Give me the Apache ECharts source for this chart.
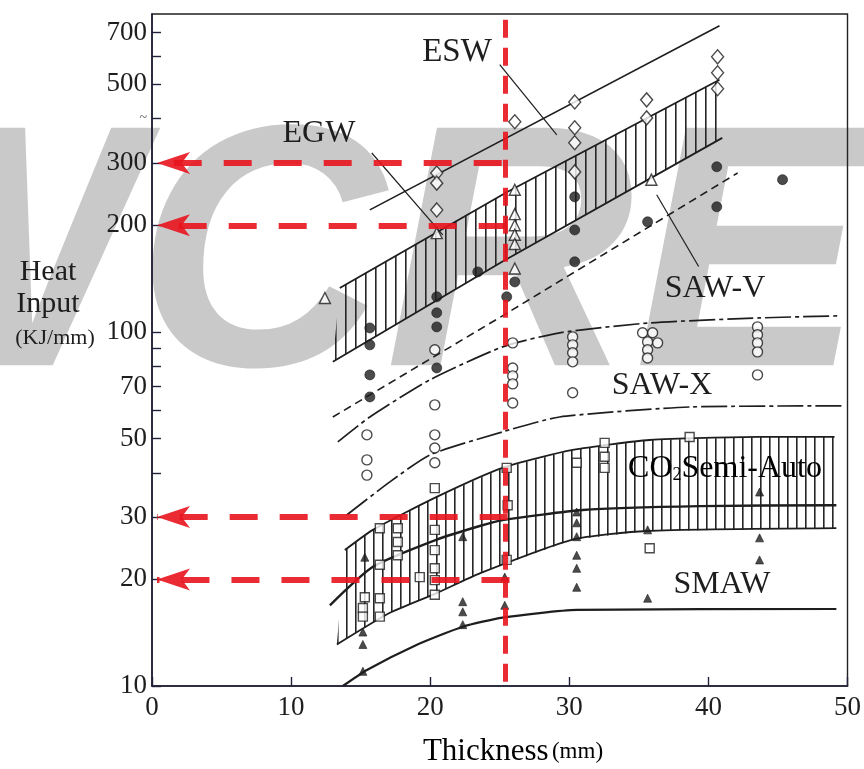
<!DOCTYPE html>
<html>
<head>
<meta charset="utf-8">
<script src="https://cdn.jsdelivr.net/npm/echarts@6/dist/echarts.min.js"></script>
<style>
  html, body { margin: 0; padding: 0; background: #ffffff; }
  #chart { width: 864px; height: 769px; }
</style>
</head>
<body>
<div id="chart"></div>
<script>
// Axis ticks and labels
const xTickLabels = [0, 10, 20, 30, 40, 50];
const yTickValues = [10, 20, 30, 40, 50, 60, 70, 80, 90, 100, 200, 300, 400, 500, 600, 700];
const yLabelValues = [10, 20, 30, 50, 70, 100, 200, 300, 400, 500, 700];

// Process ranges: [thickness mm, heat input kJ/mm]
const eswLine = [[15.66, 221], [40.8, 732]];
const egwUpper = [[13.5, 133], [25.5, 248], [40.8, 515]];
const egwLower = [[13.0, 82.3], [25.2, 158], [41.0, 353]];
const sawVLine = [[13.0, 57.5], [25.2, 111], [42.1, 281]];
const sawXUpper = [[13.36, 48.9], [15.66, 57.5], [19.97, 73.2], [25.2, 90.7], [29.3, 99.4], [35.78, 106], [43.68, 109.5], [49.43, 111]];
const sawXLower = [[14.0, 30.4], [17.1, 37.7], [19.97, 44.9], [25.2, 52.2], [29.3, 57.5], [38.86, 61.4], [49.64, 61.8]];
const co2Upper = [[13.86, 24.2], [15.88, 27.6], [20.47, 34.2], [25.2, 41.3], [30.24, 46.4], [35.78, 49.5], [43.68, 50.5], [49.07, 50.5]];
const co2Lower = [[13.29, 13.1], [17.1, 16.1], [20.47, 18.3], [23.56, 20.8], [30.24, 25.9], [35.56, 27.4], [49.2, 27.9]];
const smawUpper = [[12.79, 16.9], [15.88, 21.7], [20.47, 25.9], [23.56, 28.3], [25.2, 29.4], [30.96, 31.4], [39.37, 32.2], [49.2, 32.4]];
const smawLower = [[13.72, 10], [15.45, 11.1], [18.9, 13.0], [22.34, 14.7], [25.2, 15.6], [30.53, 16.4], [49.2, 16.5]];

// Leader lines from the process names
const eswPointer = [[25.0, 568], [29.1, 360]];
const egwPointer = [[15.8, 320], [20.9, 188]];
const sawVPointer = [[36.28, 244], [39.3, 153]];

// Measured welds
const eswPoints = [[20.47, 281], [20.47, 263], [20.47, 221], [26.08, 392], [30.39, 446], [30.39, 377], [30.39, 342], [30.39, 283],
  [35.56, 452], [35.56, 402], [40.66, 598], [40.66, 539], [40.66, 486]];
const egwPoints = [[12.43, 124.6], [20.47, 190], [26.08, 252], [26.08, 215], [26.08, 200], [26.08, 188], [26.08, 177], [26.08, 151], [35.9, 269]];
const sawVPoints = [[15.66, 102.6], [15.66, 91.9], [15.66, 75.6], [15.66, 65.5], [20.47, 125.6], [20.47, 113.2], [20.47, 103.3], [20.47, 79.1],
  [23.42, 147.7], [26.08, 138.4], [25.5, 125.6], [30.39, 240.6], [30.39, 194], [30.39, 157.7], [35.63, 204.5], [40.6, 292.5], [40.6, 225.5], [45.33, 269]];
const sawXPoints = [[15.45, 51.2], [15.45, 43.5], [15.45, 39.4], [20.33, 89.0], [20.33, 62.2], [20.33, 51.2], [20.33, 47.0], [20.33, 42.7],
  [25.93, 93.1], [25.93, 79.1], [25.93, 75.1], [25.93, 71.3], [25.93, 63.0], [30.24, 96.8], [30.24, 91.9], [30.24, 87.3], [30.24, 82.3], [30.24, 67.3],
  [35.27, 99.4], [35.99, 99.4], [35.63, 93.7], [36.35, 93.1], [35.63, 89.0], [35.63, 84.4], [43.53, 103.3], [43.53, 98.1], [43.53, 93.1], [43.53, 87.8], [43.53, 75.6]];
const co2Points = [[20.33, 36.2], [16.38, 27.9], [17.67, 27.9], [17.67, 25.5], [17.67, 23.4], [16.38, 22.0], [15.3, 17.8], [16.38, 17.7], [15.16, 16.6],
  [15.16, 15.7], [16.38, 15.7], [20.33, 27.6], [20.33, 24.2], [20.33, 21.5], [20.33, 19.9], [20.33, 18.1], [19.25, 20.3],
  [30.53, 42.7], [32.54, 48.6], [32.54, 44.4], [32.54, 41.3], [25.57, 32.4], [25.5, 41.3], [25.5, 22.7], [35.78, 24.5], [38.65, 50.5]];
const smawPoints = [[15.16, 14.2], [15.16, 13.1], [15.16, 11.0], [15.3, 23.1], [22.34, 17.3], [22.34, 16.2], [22.34, 14.9], [22.34, 26.4],
  [25.36, 20.3], [25.36, 16.9], [30.53, 31.0], [30.53, 28.9], [30.53, 26.4], [30.53, 23.4], [30.53, 21.5], [30.53, 19.0],
  [35.63, 17.7], [35.63, 27.6], [43.68, 35.3], [43.68, 26.2], [43.68, 22.7]];

// Reading guides (red)
const guideX = 25.36;
const guideLevels = [[25.14, 300], [25.5, 200], [25.57, 30], [25.7, 20]];
const guideTipX = 0.36;
const guideTop = 761;

const INK = '#1e1e1e';
const AXIS = '#20203a';
const RED = 'rgba(232, 20, 30, 0.9)';
const SERIF = '"Liberation Serif", "DejaVu Serif", serif';

// Vertical hatching used to fill the EGW and CO2 bands
function hatch(period, width) {
  const c = document.createElement('canvas');
  c.width = period; c.height = 8;
  const g = c.getContext('2d');
  g.fillStyle = '#262626';
  g.fillRect(Math.floor(period / 2), 0, width, 8);
  return { image: c, repeat: 'repeat' };
}

function band(upper, lower, pattern) {
  return {
    type: 'custom',
    coordinateSystem: 'cartesian2d',
    silent: true,
    z: 1,
    data: [[20, 100]],
    renderItem: function (params, api) {
      const pts = upper.map(p => api.coord(p)).concat(lower.slice().reverse().map(p => api.coord(p)));
      return { type: 'polygon', shape: { points: pts, smooth: 0 }, style: { fill: pattern, stroke: null } };
    }
  };
}

function curve(data, width, type, smooth) {
  return {
    type: 'line', data: data, showSymbol: false, symbol: 'none', silent: true,
    smooth: smooth ? 0.2 : false, z: 2,
    lineStyle: { color: INK, width: width, type: type || 'solid' }
  };
}

function points(data, symbol, size, filled) {
  return {
    type: 'scatter', data: data, symbol: symbol, symbolSize: size, silent: true, z: 3,
    itemStyle: filled ? { color: INK, borderColor: INK, borderWidth: 0.8 }
                      : { color: '#ffffff', borderColor: INK, borderWidth: 1.4 }
  };
}

function label(text, x, y, size) {
  return { type: 'text', x: x, y: y, z: 20, silent: true,
    style: { text: text, fontSize: size, fontFamily: SERIF, fill: INK, align: 'center', verticalAlign: 'middle' } };
}

const chart = echarts.init(document.getElementById('chart'), null, { renderer: 'canvas' });

chart.setOption({
  animation: false,
  backgroundColor: '#ffffff',
  grid: { left: 152, right: 16, top: 14, bottom: 83, show: true, borderColor: '#222', borderWidth: 1.4, backgroundColor: 'transparent' },
  xAxis: {
    type: 'value', min: 0, max: 50, interval: 10,
    axisLine: { lineStyle: { color: AXIS, width: 1.6 } },
    axisTick: { inside: true, length: 9, lineStyle: { color: AXIS, width: 1.4 } },
    axisLabel: { fontFamily: SERIF, fontSize: 27, color: INK, margin: 8, customValues: xTickLabels },
    splitLine: { show: false }
  },
  yAxis: {
    type: 'log', logBase: 10, min: 10, max: 790,
    axisLine: { lineStyle: { color: AXIS, width: 1.6 } },
    axisTick: { inside: true, length: 9, lineStyle: { color: AXIS, width: 1.4 }, customValues: yTickValues },
    axisLabel: {
      fontFamily: SERIF, fontSize: 27, color: INK, margin: 5,
      customValues: yLabelValues,
      formatter: v => (Math.round(v) === 400 ? '{t|~}' : String(Math.round(v))),
      rich: { t: { fontSize: 14, color: '#555', padding: [0, 0, 0, 0] } }
    },
    splitLine: { show: false },
    minorTick: { show: false }
  },
  graphic: [
    { type: 'text', z: -10, silent: true, x: -190, y: 270,
      style: { text: 'WCRE', fontSize: 345, fontStyle: 'italic', fontWeight: 'bold', fontFamily: '"Liberation Sans", Arial, sans-serif',
        fill: '#c9c9c9', verticalAlign: 'middle', align: 'left' } },
    label('Heat', 48, 272, 30),
    label('Input', 48, 304, 30),
    label('(KJ/mm)', 55, 338, 22),
    { type: 'text', x: 513, y: 752, z: 20, silent: true,
      style: { text: '{a|Thickness} {b|(mm)}', align: 'center', verticalAlign: 'middle',
        rich: { a: { fontFamily: SERIF, fontSize: 31, color: INK }, b: { fontFamily: SERIF, fontSize: 23, color: INK } } } },
    label('ESW', 457, 52, 33),
    label('EGW', 319, 134, 32),
    label('SAW-V', 715, 289, 32),
    label('SAW-X', 662, 386, 32),
    { type: 'text', x: 725, y: 469, z: 20, silent: true,
      style: { text: '{a|CO}{s|2}{a|Semi-Auto}', align: 'center', verticalAlign: 'middle',
        rich: { a: { fontFamily: SERIF, fontSize: 32, color: INK }, s: { fontFamily: SERIF, fontSize: 18, color: INK, padding: [12, 0, 0, 0] } } } },
    label('SMAW', 722, 585, 32)
  ],
  series: [
    band(egwUpper, egwLower, hatch(10, 1.6)),
    band(co2Upper, co2Lower, hatch(9, 1.6)),
    curve(eswLine, 1.6),
    curve(egwUpper, 1.8),
    curve(egwLower, 1.8),
    curve(sawVLine, 1.6, [8, 5]),
    curve(sawXUpper, 1.7, [26, 4, 4, 4], true),
    curve(sawXLower, 1.7, [26, 4, 4, 4], true),
    curve(co2Upper, 1.8, 'solid', true),
    curve(co2Lower, 1.8, 'solid', true),
    curve(smawUpper, 2.4, 'solid', true),
    curve(smawLower, 2.2, 'solid', true),
    curve(eswPointer, 1.2),
    curve(egwPointer, 1.2),
    curve(sawVPointer, 1.2),
    points(eswPoints, 'diamond', [12, 14], false),
    points(egwPoints, 'triangle', 11, false),
    points(sawVPoints, 'circle', 10, true),
    points(sawXPoints, 'circle', 10, false),
    points(co2Points, 'rect', 9, false),
    points(smawPoints, 'triangle', 8, true),
    {
      type: 'line', data: [], z: 10, silent: true,
      markLine: {
        silent: true, animation: false,
        symbol: ['none', 'arrow'], symbolSize: [16.5, 33],
        label: { show: false },
        lineStyle: { color: RED, width: 6, type: [28, 22], cap: 'butt' },
        itemStyle: { color: RED },
        data: guideLevels.map(p => [{ coord: [p[0], p[1]] }, { coord: [guideTipX, p[1]] }])
      }
    },
    {
      type: 'line', data: [], z: 10, silent: true,
      markLine: {
        silent: true, animation: false,
        symbol: ['none', 'none'],
        label: { show: false },
        lineStyle: { color: RED, width: 5, type: [18, 10], cap: 'butt' },
        data: [[{ coord: [guideX, guideTop] }, { coord: [guideX, 10] }]]
      }
    }
  ]
});
</script>
</body>
</html>
